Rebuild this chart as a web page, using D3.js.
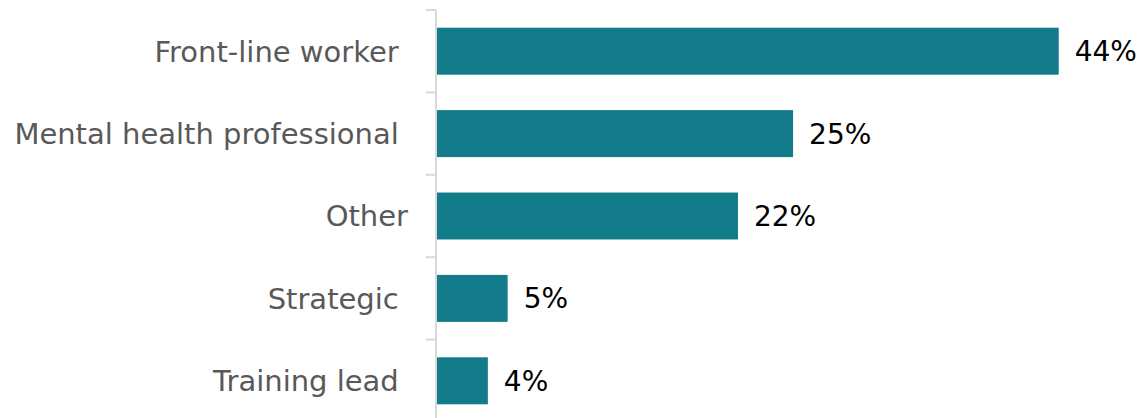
<!DOCTYPE html>
<html>
<head>
<meta charset="utf-8">
<title>Role of respondents</title>
<script src="https://cdn.jsdelivr.net/npm/d3@7"></script>
<style>
  body { margin: 0; background: #fff; }
  svg text { font-family: "DejaVu Sans", Verdana, sans-serif; }
  .cat { fill: #595959; font-size: 29px; white-space: pre; }
  .val { fill: #000; font-size: 28px; }
</style>
</head>
<body>
<svg id="chart" width="1142" height="418"></svg>
<script>
// data
var roles = ["Front-line worker ", "Mental health professional ", "Other", "Strategic ", "Training lead "];
var shares = [44, 25.2, 21.3, 5.0, 3.6];
var shareLabels = ["44%", "25%", "22%", "5%", "4%"];

var svg = d3.select("#chart");
var x0 = 437;

var x = d3.scaleLinear().domain([0, 50]).range([x0, 1143.5]);
var y = d3.scaleBand().domain(roles).range([10, 422])
  .paddingInner(0.43).paddingOuter(0.215);

// axis line and band ticks
var step = y.step();
svg.append("line")
  .attr("x1", x0 - 1).attr("x2", x0 - 1)
  .attr("y1", 10).attr("y2", 418)
  .style("stroke", "#d9d9d9").style("stroke-width", 2);

svg.selectAll("line.tick")
  .data(roles)
  .enter().append("line")
  .attr("class", "tick")
  .attr("x1", x0 - 11).attr("x2", x0 - 1)
  .attr("y1", function (d) { return y(d) - y.paddingInner() * step / 2; })
  .attr("y2", function (d) { return y(d) - y.paddingInner() * step / 2; })
  .style("stroke", "#d9d9d9").style("stroke-width", 2);

svg.selectAll("rect.bar")
  .data(shares)
  .enter().append("rect")
  .attr("class", "bar")
  .attr("x", x(0))
  .attr("y", function (d, i) { return y(roles[i]); })
  .attr("width", function (d) { return x(d) - x(0); })
  .attr("height", y.bandwidth())
  .style("fill", "#137c8a");

svg.selectAll("text.cat")
  .data(roles)
  .enter().append("text")
  .attr("class", "cat")
  .attr("x", x0 - 29)
  .attr("y", function (d) { return y(d) + y.bandwidth() / 2; })
  .attr("dy", "0.36em")
  .attr("text-anchor", "end")
  .text(function (d) { return d; });

svg.selectAll("text.val")
  .data(shares)
  .enter().append("text")
  .attr("class", "val")
  .attr("x", function (d) { return x(d) + 16; })
  .attr("y", function (d, i) { return y(roles[i]) + y.bandwidth() / 2; })
  .attr("dy", "0.36em")
  .text(function (d, i) { return shareLabels[i]; });
</script>
</body>
</html>
